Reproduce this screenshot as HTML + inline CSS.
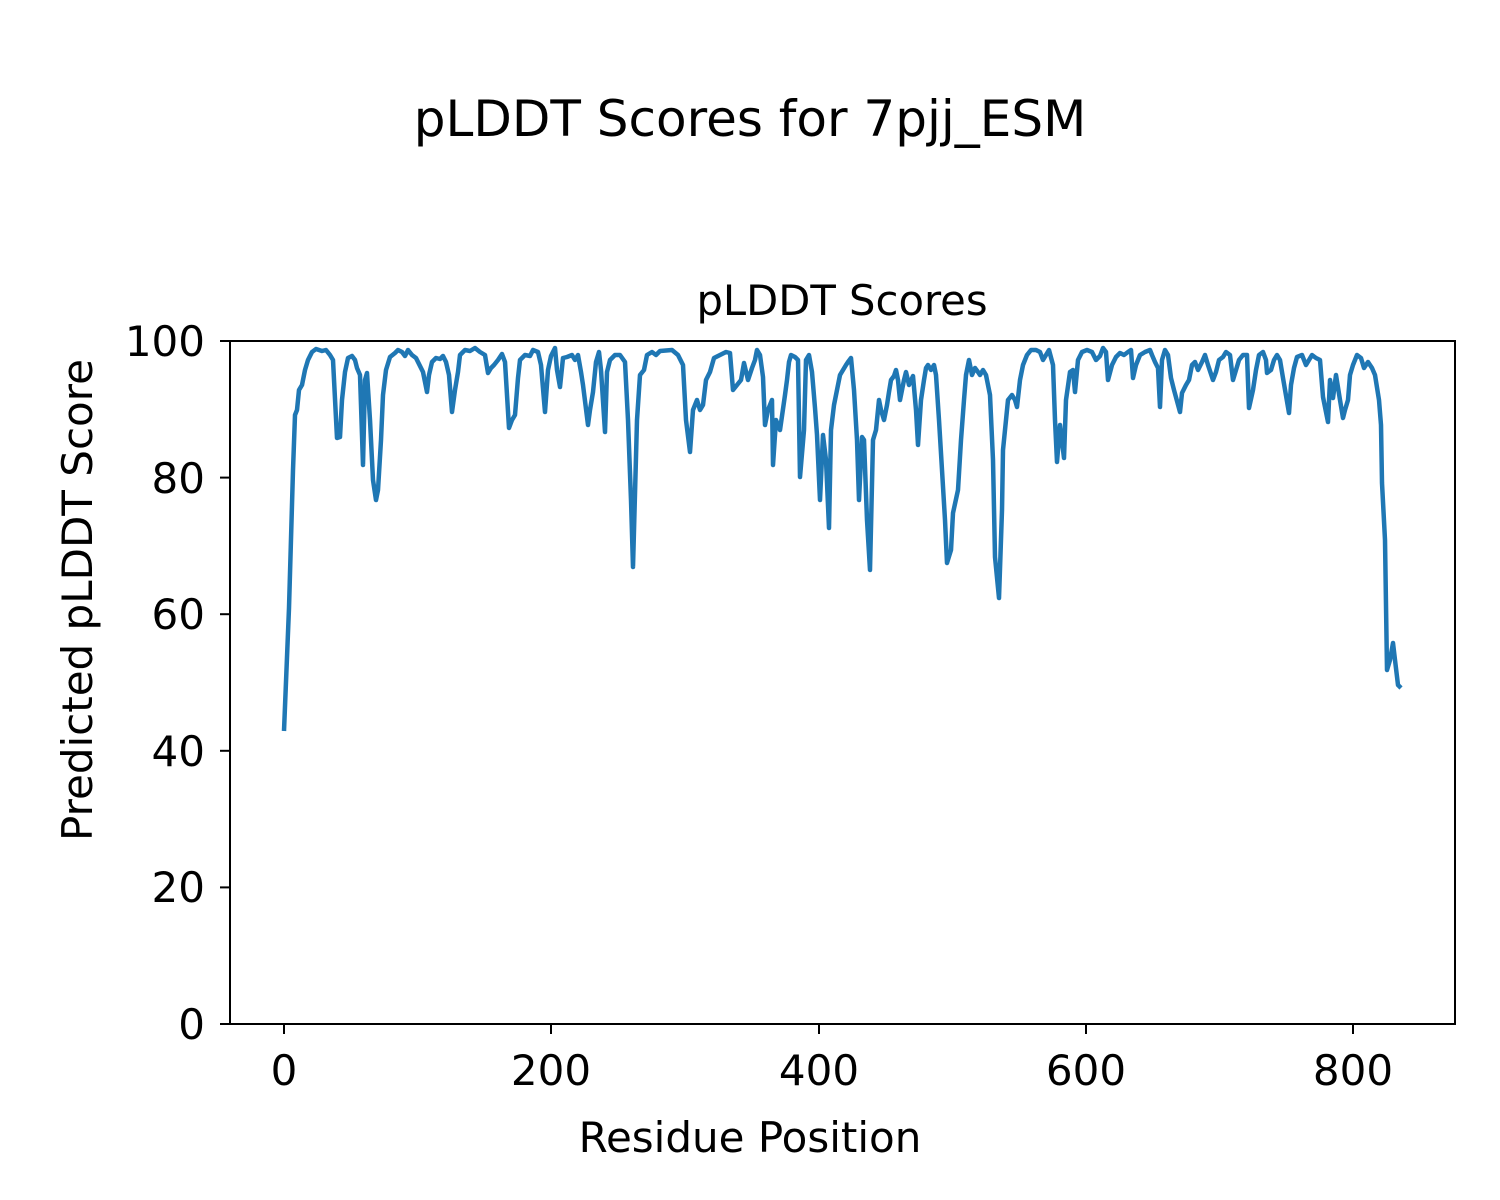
<!DOCTYPE html>
<html><head><meta charset="utf-8"><style>body{margin:0;background:#fff}svg{display:block}</style></head><body>
<svg width="1500" height="1200" xmlns="http://www.w3.org/2000/svg" font-family="'DejaVu Sans','Liberation Sans',sans-serif">
<rect width="1500" height="1200" fill="#fff"/>
<text x="750" y="136" font-size="50" text-anchor="middle">pLDDT Scores for 7pjj_ESM</text>
<text x="842" y="315" font-size="41.7" text-anchor="middle">pLDDT Scores</text>
<polyline fill="none" stroke="#1f77b4" stroke-width="4.5" stroke-linejoin="round" points="284,731 289,608 293,470 295,415 297,410 299,390 302,385 305,370 308,360 312,352 316,349 322,351 326,350 330,355 333,360 337,438 340,437 342,400 345,372 348,358 352,356 355,360 357,368 360,375 363,465 365,380 367,373 370,420 373,480 376,500 378,490 381,440 383,395 386,370 390,357 395,353 398,350 402,352 405,356 408,350 412,355 416,358 420,366 423,372 427,392 429,375 432,362 436,358 440,359 443,356 446,362 449,375 452,412 455,390 458,372 460,355 465,350 470,351 475,348 480,352 485,355 488,373 491,368 494,365 498,360 502,354 505,362 509,428 512,420 515,415 518,378 520,360 525,355 530,356 533,350 538,352 541,365 545,412 548,370 551,356 555,348 557,370 560,387 563,358 567,357 572,355 575,360 578,355 581,372 583,385 588,425 590,410 593,392 596,362 599,352 601,370 605,432 607,372 610,360 615,355 620,355 625,362 628,420 631,500 633,567 637,420 640,375 644,370 647,355 652,352 656,355 660,351 672,350 678,355 683,365 686,420 690,452 693,410 697,400 700,410 703,405 706,380 710,372 714,358 720,355 726,352 730,353 733,390 737,385 741,380 744,363 748,380 752,368 755,360 757,350 760,355 763,377 765,425 768,410 772,400 773,465 776,420 780,430 785,395 787,380 789,362 791,355 795,357 798,360 800,477 804,430 806,360 809,355 812,372 815,408 817,435 820,500 823,435 826,460 829,528 831,430 834,405 837,390 840,375 843,370 846,365 848,362 851,358 854,390 857,440 859,500 862,437 864,440 867,520 870,570 873,440 876,430 879,400 881,410 884,420 887,405 889,392 891,380 894,376 896,370 898,380 900,400 904,380 906,372 909,385 913,376 916,410 918,445 921,400 924,380 926,368 928,365 931,370 934,365 936,375 939,420 942,470 945,520 947,563 951,550 953,513 958,490 961,440 964,400 966,375 969,360 972,375 975,368 978,372 980,375 983,370 986,375 990,395 993,460 995,557 999,598 1002,510 1003,450 1008,400 1012,395 1015,400 1017,407 1020,380 1023,365 1027,355 1031,350 1036,350 1040,352 1043,360 1046,355 1049,350 1053,365 1055,420 1057,462 1060,425 1064,458 1066,400 1070,372 1073,370 1075,392 1078,360 1082,352 1087,350 1092,352 1096,360 1100,356 1103,348 1106,352 1108,380 1112,365 1116,357 1120,353 1124,355 1128,352 1131,350 1133,378 1136,365 1140,355 1145,352 1150,350 1152,355 1155,362 1158,368 1160,407 1162,360 1165,350 1168,355 1171,378 1174,390 1180,412 1182,393 1186,385 1189,380 1192,365 1195,362 1198,370 1202,362 1205,355 1208,365 1213,380 1216,372 1219,360 1223,357 1226,352 1230,355 1233,380 1236,370 1239,360 1243,355 1247,355 1249,408 1253,390 1256,370 1259,355 1263,352 1266,360 1267,373 1271,370 1274,360 1277,355 1280,360 1283,378 1289,413 1291,385 1294,368 1297,357 1302,355 1306,365 1309,360 1312,355 1316,358 1320,360 1323,397 1328,422 1330,380 1333,398 1336,375 1340,400 1343,418 1345,410 1348,400 1350,375 1353,365 1357,355 1361,358 1364,368 1368,362 1372,368 1375,375 1379,400 1381,425 1382,483 1385,540 1387,670 1390,660 1393,643 1395,660 1398,685 1401,688"/>
<rect x="230" y="341" width="1225" height="683" fill="none" stroke="#000" stroke-width="2"/>
<g stroke="#000" stroke-width="2">
<line x1="230" y1="1024" x2="220" y2="1024"/><line x1="230" y1="887.4" x2="220" y2="887.4"/><line x1="230" y1="750.8" x2="220" y2="750.8"/><line x1="230" y1="614.2" x2="220" y2="614.2"/><line x1="230" y1="477.6" x2="220" y2="477.6"/><line x1="230" y1="341" x2="220" y2="341"/>
<line x1="284" y1="1024" x2="284" y2="1034"/><line x1="551" y1="1024" x2="551" y2="1034"/><line x1="819" y1="1024" x2="819" y2="1034"/><line x1="1086" y1="1024" x2="1086" y2="1034"/><line x1="1353" y1="1024" x2="1353" y2="1034"/>
</g>
<g font-size="42" text-anchor="end">
<text x="205" y="1039">0</text><text x="205" y="902">20</text><text x="205" y="766">40</text><text x="205" y="629">60</text><text x="205" y="493">80</text><text x="205" y="356">100</text>
</g>
<g font-size="42" text-anchor="middle">
<text x="284" y="1085">0</text><text x="551" y="1085">200</text><text x="819" y="1085">400</text><text x="1086" y="1085">600</text><text x="1353" y="1085">800</text>
<text x="750" y="1152">Residue Position</text>
<text transform="translate(92,600) rotate(-90)">Predicted pLDDT Score</text>
</g>
</svg>
</body></html>
